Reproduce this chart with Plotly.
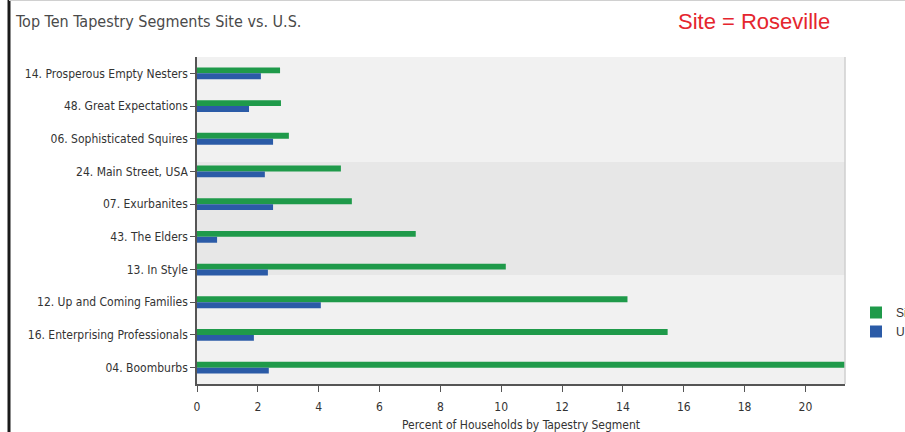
import plotly.graph_objects as go

categories = [
    "14. Prosperous Empty Nesters",
    "48. Great Expectations",
    "06. Sophisticated Squires",
    "24. Main Street, USA",
    "07. Exurbanites",
    "43. The Elders",
    "13. In Style",
    "12. Up and Coming Families",
    "16. Enterprising Professionals",
    "04. Boomburbs",
]
site_values = [2.73, 2.76, 3.02, 4.73, 5.09, 7.19, 10.15, 14.15, 15.47, 21.5]
us_values = [2.10, 1.71, 2.50, 2.23, 2.50, 0.66, 2.33, 4.07, 1.87, 2.36]
x_ticks = [0, 2, 4, 6, 8, 10, 12, 14, 16, 18, 20]

W, H = 905, 432
L, R, T, B = 197, 60, 57, 48
pw, ph = W - L - R, H - T - B

def px_x(p):
    return (p - L) / pw

def px_y(p):
    return (H - B - p) / ph

NARROW = "DejaVu Sans Condensed, Liberation Sans Narrow, Arial Narrow, sans-serif"

fig = go.Figure()
fig.add_trace(go.Bar(y=categories, x=site_values, orientation="h", name="Site",
                     marker=dict(color="#1f9a4a", line=dict(width=0))))
fig.add_trace(go.Bar(y=categories, x=us_values, orientation="h", name="U.S.",
                     marker=dict(color="#2b5ba7", line=dict(width=0))))

shapes = [
    dict(type="rect", xref="paper", yref="paper", x0=0, x1=1,
         y0=px_y(275), y1=px_y(162), fillcolor="#e7e7e7", line=dict(width=0), layer="below"),
    dict(type="line", xref="paper", yref="paper", x0=1, x1=1, y0=0, y1=1,
         line=dict(color="#cfcfcf", width=1.5)),
    dict(type="line", xref="paper", yref="paper", x0=px_x(9), x1=px_x(9), y0=px_y(0), y1=px_y(432),
         line=dict(color="#1a1a1a", width=3)),
    dict(type="line", xref="paper", yref="paper", x0=px_x(9), x1=px_x(905), y0=px_y(0.5), y1=px_y(0.5),
         line=dict(color="#d0d0d0", width=1)),
]

fig.update_layout(
    width=W, height=H,
    margin=dict(l=L, r=R, t=T, b=B, autoexpand=False),
    paper_bgcolor="white",
    plot_bgcolor="#f1f1f1",
    barmode="group",
    bargap=0.64,
    bargroupgap=0,
    shapes=shapes,
    showlegend=True,
    legend=dict(x=px_x(856), y=px_y(298), xanchor="left", yanchor="top",
                font=dict(family="Liberation Sans, sans-serif", size=12, color="#333"),
                bgcolor="rgba(0,0,0,0)", itemwidth=30, tracegroupgap=0),
    annotations=[
        dict(text="Top Ten Tapestry Segments Site vs. U.S.", xref="paper", yref="paper",
             x=px_x(13), y=px_y(22), xanchor="left", yanchor="middle", showarrow=False,
             font=dict(family=NARROW, size=16, color="#4a4a4a")),
        dict(text="Site = Roseville", xref="paper", yref="paper",
             x=px_x(676), y=px_y(22), xanchor="left", yanchor="middle", showarrow=False,
             font=dict(family="Liberation Sans, Arial, sans-serif", size=22, color="#e5262e")),
    ],
    xaxis=dict(range=[0, 21.3], tickvals=x_ticks, ticks="outside", ticklen=6, tickcolor="#555",
               ticklabelstandoff=5,
               showgrid=False, zeroline=False, showline=True, linecolor="#555", linewidth=1.5,
               tickfont=dict(family=NARROW, size=12, color="#333"),
               title=dict(text="Percent of Households by Tapestry Segment",
                          font=dict(family=NARROW, size=12, color="#333"), standoff=8)),
    yaxis=dict(categoryorder="array", categoryarray=categories, autorange="reversed",
               ticks="outside", ticklen=5, tickcolor="#555", showgrid=False, zeroline=False,
               showline=True, linecolor="#555", linewidth=1.5,
               tickfont=dict(family=NARROW, size=12, color="#333")),
)

fig.write_html("out.html")
